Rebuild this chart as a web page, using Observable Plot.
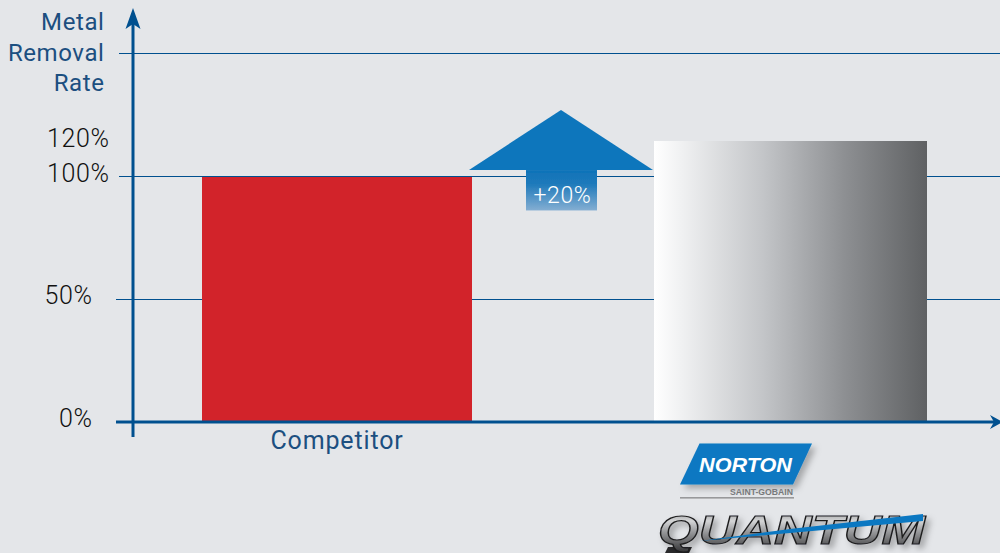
<!DOCTYPE html>
<html>
<head>
<meta charset="utf-8">
<script src="https://cdn.jsdelivr.net/npm/d3@7"></script>
<script src="https://cdn.jsdelivr.net/npm/@observablehq/plot@0.6"></script>
<style>
  html, body { margin: 0; padding: 0; background: #e4e6e9; }
  svg { display: block; }
  svg g[aria-label="y-axis tick label"] text { letter-spacing: 0.6px; }
  svg g[aria-label="x-axis tick label"] text { letter-spacing: 0.85px; }
  svg g[aria-label="text"] text { letter-spacing: 0.6px; }
</style>
</head>
<body>
<div id="chart"></div>
<script>
// Metal removal rate, competitor wheel against Norton Quantum
const products = ["Competitor", "Quantum"];
const rates = [100, 120];
const upperTicks = [100, 120];
const lowerTicks = [0, 50];
const gridHigh = [100, 150];
const gridLow = [50];
const gain = "+20%";
const axisTitle = "Metal\nRemoval\nRate";

const bars = products.map((product, i) => ({product, rate: rates[i]}));

const navy = "#00508f";
const inkBlue = "#1c4f80";
const brandBlue = "#0e76bc";
const uiFont = "Roboto, sans-serif";

// Gradients, blur and shadow used by the fills below
function defs() {
  const d = d3.create("svg:defs");
  const grad = (id, stops, vertical) => {
    const g = d.append("linearGradient").attr("id", id)
      .attr("x1", 0).attr("y1", 0).attr("x2", vertical ? 0 : 1).attr("y2", vertical ? 1 : 0);
    for (const [o, c] of stops) g.append("stop").attr("offset", o).attr("stop-color", c);
  };
  grad("steel", [[0, "#ffffff"], [0.1, "#f0f1f2"], [0.4, "#c3c5c8"], [0.7, "#8d8f92"], [1, "#5f6163"]]);
  grad("shaft", [[0, "#0e72b8"], [0.35, "#1f7abb"], [1, "#84aed2"]], true);
  grad("chrome", [[0, "#7f8082"], [0.32, "#d4d5d6"], [0.55, "#98999b"], [1, "#303032"]], true);
  const f = d.append("filter").attr("id", "soft").attr("x", "-20%").attr("y", "-20%").attr("width", "150%").attr("height", "170%");
  f.append("feDropShadow").attr("dx", 4).attr("dy", 4).attr("stdDeviation", 3).attr("flood-color", "#000").attr("flood-opacity", 0.28);
  d.append("filter").attr("id", "edge").attr("x", "-5%").attr("y", "-5%").attr("width", "110%").attr("height", "110%")
    .append("feGaussianBlur").attr("stdDeviation", 0.6);
  return d.node();
}

// Axis lines with arrowheads, anchored on the chart's baseline
function axisLines(index, {y}) {
  const g = d3.create("svg:g").attr("fill", navy).attr("stroke", "none");
  const y0 = y(0), x0 = 133;
  g.append("rect").attr("x", x0 - 1.5).attr("y", 20).attr("width", 3).attr("height", 437 - 20);
  g.append("path").attr("d", `M${x0} 8L${x0 + 7.5} 29L${x0} 24L${x0 - 7.5} 29Z`);
  g.append("rect").attr("x", 116).attr("y", y0 - 1.5).attr("width", 880).attr("height", 3);
  g.append("path").attr("d", `M1003 ${y0}L${990} ${y0 - 7}L${994} ${y0}L${990} ${y0 + 7}Z`);
  return g.node();
}

// The up arrow between the two bars
function gainArrow(index, {y}) {
  const cx = 561;
  const g = d3.create("svg:g");
  const tip = y(130.6), base = y(103.4), foot = y(86);
  g.append("rect").attr("x", cx - 35).attr("y", base).attr("width", 71).attr("height", foot - base)
    .attr("fill", "url(#shaft)").attr("filter", "url(#edge)");
  g.append("path").attr("d", `M${cx} ${tip}L${cx + 92} ${base}L${cx - 92} ${base}Z`)
    .attr("fill", brandBlue).attr("filter", "url(#edge)");
  g.append("path").attr("d", `M${cx - 88} ${base}H${cx - 35}M${cx + 36} ${base}H${cx + 88}`)
    .attr("stroke", "#0b3f66").attr("stroke-width", 1.5).attr("fill", "none").attr("filter", "url(#edge)");
  g.append("text").text(gain).attr("x", cx + 1.5).attr("y", foot - 7)
    .attr("text-anchor", "middle").attr("fill", "#fff")
    .attr("font-family", uiFont).attr("font-weight", 300).attr("font-size", 23)
    .attr("letter-spacing", 0.6);
  return g.node();
}

// Brand marks under the second bar
function brandMarks() {
  const g = d3.create("svg:g").attr("text-anchor", "start");
  g.append("path").attr("d", "M699.5 443.5H812L793 484.5H680Z")
    .attr("fill", "#0b78c2").attr("filter", "url(#soft)");
  g.append("text").text("NORTON").attr("x", 699).attr("y", 472)
    .attr("textLength", 93).attr("lengthAdjust", "spacingAndGlyphs")
    .attr("fill", "#fff").attr("font-family", "Liberation Sans").attr("font-weight", 700)
    .attr("font-style", "italic").attr("font-size", 21);
  g.append("text").text("SAINT-GOBAIN").attr("x", 730).attr("y", 495)
    .attr("textLength", 63).attr("lengthAdjust", "spacingAndGlyphs")
    .attr("fill", "#77797b").attr("font-family", "Liberation Sans").attr("font-weight", 700)
    .attr("font-size", 9.5);
  g.append("rect").attr("x", 680).attr("y", 497).attr("width", 114).attr("height", 1.6).attr("fill", "#98999b");
  g.append("path").attr("d", "M668 547H692L689 553H665Z").attr("fill", "#2a2a2c");
  g.append("text").text("QUANTUM").attr("x", 658).attr("y", 544)
    .attr("textLength", 267).attr("lengthAdjust", "spacingAndGlyphs")
    .attr("fill", "url(#chrome)").attr("stroke", "#1d1d1f").attr("stroke-width", 1.2)
    .attr("font-family", "Liberation Sans").attr("font-weight", 700)
    .attr("font-style", "italic").attr("font-size", 41.5).attr("filter", "url(#soft)");
  g.append("path").attr("d", "M700 541L790 529L923 514L923 521L790 533Z").attr("fill", "#0b78c2");
  return g.node();
}

const tickStyle = {
  anchor: "left",
  tickSize: 0,
  tickFormat: (d) => `${d}%`,
  fontSize: 25,
  fontWeight: 300,
  fill: "#111",
  label: null
};

const chart = Plot.plot({
  width: 1000,
  height: 553,
  marginLeft: 116,
  marginRight: 0,
  marginTop: 0,
  marginBottom: 131,
  style: {background: "#e4e6e9", fontFamily: uiFont, overflow: "visible"},
  x: {
    domain: products,
    range: [201.5, 927.5],
    paddingInner: 0.396,
    paddingOuter: 0
  },
  // The axis is not evenly spaced above 100%
  y: {
    type: "linear",
    domain: [0, 50, 100, 120, 150],
    range: [422, 299, 176, 141, 53]
  },
  marks: [
    defs,
    Plot.ruleY(gridHigh, {stroke: navy, strokeWidth: 1, insetLeft: 3}),
    Plot.ruleY(gridLow, {stroke: navy, strokeWidth: 1}),
    Plot.barY(bars.slice(0, 1), {x: "product", y: "rate", fill: "#d2232a", insetRight: 3, insetTop: 1}),
    Plot.barY(bars.slice(1), {x: "product", y: "rate", fill: "url(#steel)"}),
    gainArrow,
    axisLines,
    Plot.axisY({...tickStyle, ticks: upperTicks, tickPadding: 7, dy: -3}),
    Plot.axisY({...tickStyle, ticks: lowerTicks, tickPadding: 24, dy: -4}),
    Plot.axisX({
      anchor: "bottom",
      ticks: ["Competitor"],
      tickSize: 0,
      tickPadding: 9,
      fontSize: 25,
      fontWeight: 400,
      fill: inkBlue,
      dx: -2,
      label: null
    }),
    Plot.text([axisTitle], {
      frameAnchor: "top-left",
      dx: -12,
      dy: 8,
      textAnchor: "end",
      lineAnchor: "top",
      lineHeight: 1.27,
      fontSize: 24,
      fill: inkBlue
    }),
    brandMarks
  ]
});

document.getElementById("chart").append(chart);
</script>
</body>
</html>
